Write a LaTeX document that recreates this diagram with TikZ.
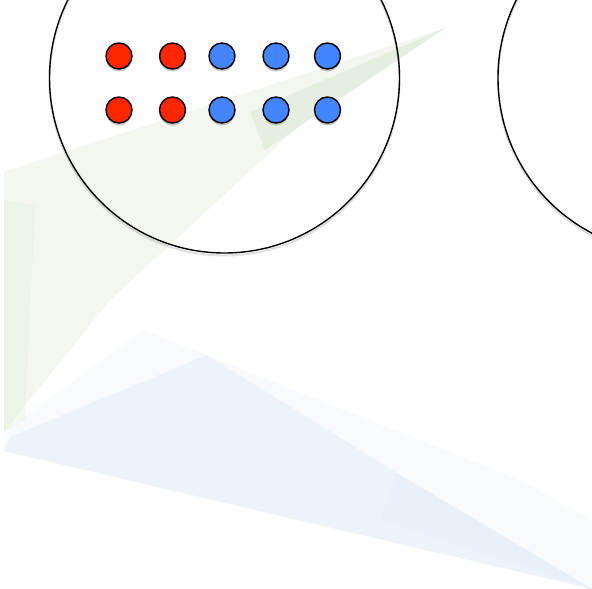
\documentclass[tikz,border=0pt]{standalone}
\usetikzlibrary{shadows}
\definecolor{dotred}{RGB}{255,38,0}
\definecolor{dotblue}{RGB}{66,133,255}
\definecolor{wmgreen}{RGB}{222,234,214}
\definecolor{wmgreendark}{RGB}{205,222,196}
\definecolor{wmblue}{RGB}{222,232,245}
\definecolor{wmbluelight}{RGB}{236,242,250}
\tikzset{
  dotbase/.style={circle, draw=black, line width=1.4pt, minimum size=26pt, inner sep=0pt,
    drop shadow={shadow xshift=0pt, shadow yshift=-2.5pt, opacity=0.3, fill=black!70}},
  reddot/.style={dotbase, fill=dotred},
  bluedot/.style={dotbase, fill=dotblue},
  bigring/.style={circle, draw=black, line width=1.4pt, minimum size=350pt, inner sep=0pt},
  ringshadow/.style={draw=black, line width=2pt, opacity=0.12},
  wm/.style={draw=none, fill opacity=0.35}
}
\begin{document}
\begin{tikzpicture}[x=1pt,y=-1pt]
\useasboundingbox (0,0) rectangle (592,589);
\clip (0,0) rectangle (592,589);
\fill[white] (0,0) rectangle (592,589);
% watermark: green shards
\fill[wm, fill=wmgreen] (4,172) -- (445,28) -- (300,125) -- (110,300) -- (4,432) -- cycle;
\fill[wm, fill=wmgreendark] (445,28) -- (250,112) -- (265,150) -- cycle;
\fill[wm, fill=wmgreen, fill opacity=0.3] (4,200) -- (35,205) -- (25,420) -- (4,432) -- cycle;
% watermark: blue shards
\fill[wm, fill=wmbluelight] (4,432) -- (143,330) -- (520,480) -- (592,520) -- (592,589) -- (4,451) -- cycle;
\fill[wm, fill=wmblue] (10,437) -- (207,355) -- (397,473) -- (592,589) -- (4,451) -- cycle;
\fill[wm, fill=wmblue, fill opacity=0.25] (397,473) -- (592,589) -- (380,520) -- cycle;
% rings
\draw[ringshadow] (224.5,80.5) circle[radius=175pt];
\draw[ringshadow] (673,80.5) circle[radius=175pt];
\node[bigring] (left) at (224.5,78) {};
\node[bigring] (right) at (673,78) {};
% dots
\node[reddot] (r1) at (119,56) {};
\node[reddot] (r2) at (172.5,56) {};
\node[bluedot] (b1) at (222,56) {};
\node[bluedot] (b2) at (276,56) {};
\node[bluedot] (b3) at (327.5,56) {};
\node[reddot] (r3) at (119,110) {};
\node[reddot] (r4) at (172.5,110) {};
\node[bluedot] (b4) at (222,110) {};
\node[bluedot] (b5) at (276,110) {};
\node[bluedot] (b6) at (327.5,110) {};
\end{tikzpicture}
\end{document}
